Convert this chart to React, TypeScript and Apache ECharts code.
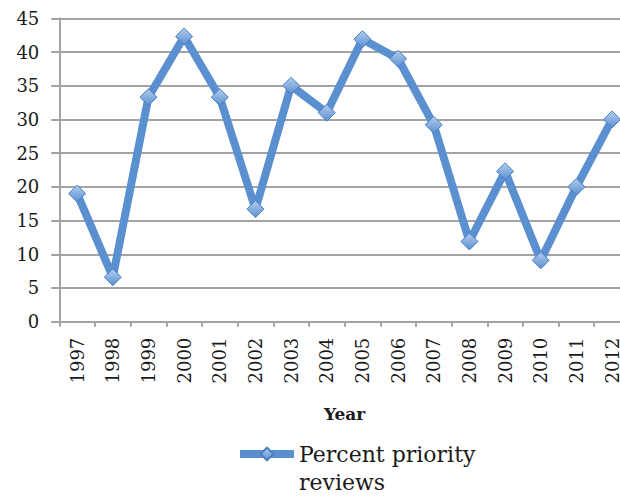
import React, { useEffect, useRef } from "react";
import * as echarts from "echarts";

const years = ["1997","1998","1999","2000","2001","2002","2003","2004","2005","2006","2007","2008","2009","2010","2011","2012"];
const percentPriority = [19, 6.6, 33.3, 42.3, 33.3, 16.7, 35, 31, 41.9, 39, 29.2, 11.9, 22.3, 9.1, 20, 30];
const yTicks = { min: 0, max: 45, interval: 5 };
const seriesName = "Percent priority\nreviews";

export default function App() {
  const ref = useRef<HTMLDivElement>(null);
  useEffect(() => {
    if (!ref.current) return;
    const chart = echarts.init(ref.current, null, { renderer: "svg" });
    const font = "'DejaVu Serif', 'Liberation Serif', serif";
    const gridColor = "#a3a3a3";
    const lineColor = "#5a8fd0";
    chart.setOption({
      animation: false,
      backgroundColor: "#ffffff",
      grid: { left: 59.3, top: 18.3, width: 570.6, height: 303.4, containLabel: false, outerBoundsMode: "none" },
      xAxis: {
        type: "category",
        data: years,
        boundaryGap: true,
        name: "Year",
        nameLocation: "middle",
        nameGap: 84,
        nameTextStyle: { fontFamily: font, fontSize: 17, fontWeight: "bold", color: "#1a1a1a" },
        axisLine: { show: true, lineStyle: { color: gridColor, width: 2 } },
        axisTick: { show: true, length: 5, alignWithLabel: false, lineStyle: { color: gridColor, width: 2 } },
        axisLabel: { rotate: 90, margin: 16, fontFamily: font, fontSize: 18, color: "#1a1a1a", interval: 0 },
        splitLine: { show: false },
      },
      yAxis: {
        type: "value",
        min: yTicks.min,
        max: yTicks.max,
        interval: yTicks.interval,
        axisLine: { show: true, lineStyle: { color: gridColor, width: 2 } },
        axisTick: { show: true, length: 8, lineStyle: { color: gridColor, width: 2 } },
        axisLabel: { margin: 20, fontFamily: font, fontSize: 18, color: "#1a1a1a" },
        splitLine: { show: true, lineStyle: { color: gridColor, width: 2 } },
      },
      legend: {
        show: true,
        left: 236,
        top: 412,
        padding: 0,
        itemWidth: 54,
        itemHeight: 16,
        lineStyle: { width: 8, color: lineColor },
        formatter: (name: string) => "\n" + name,
        textStyle: { fontFamily: font, fontSize: 22, color: "#1a1a1a", lineHeight: 28 },
        data: [seriesName],
      },
      series: [
        {
          name: seriesName,
          type: "line",
          data: percentPriority,
          symbol: "diamond",
          symbolSize: 17,
          lineStyle: { color: lineColor, width: 8 },
          itemStyle: {
            color: new echarts.graphic.LinearGradient(0, 0, 0, 1, [
              { offset: 0, color: "#b3cdef" },
              { offset: 1, color: "#5b8fd0" },
            ]),
            borderColor: "#4b7fc2",
            borderWidth: 1,
          },
        },
      ],
    });
    return () => chart.dispose();
  }, []);
  return <div ref={ref} style={{ position: "fixed", left: 0, top: 0, width: 620, height: 498 }} />;
}
